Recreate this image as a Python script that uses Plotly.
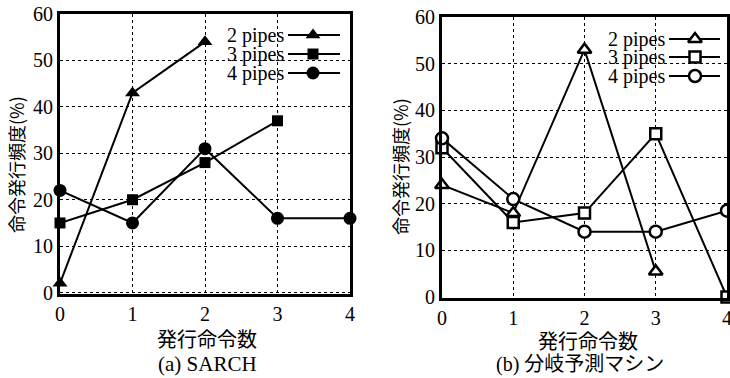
import plotly.graph_objects as go

# ---------------- data ----------------
x_vals = [0, 1, 2, 3, 4]
series_names = ["2 pipes", "3 pipes", "4 pipes"]

# (a) SARCH
sarch_2 = [2, 43, 54]
sarch_3 = [15, 20, 28, 37]
sarch_4 = [22, 15, 31, 16, 16]

# (b) branch-prediction machine
bp_2 = [24, 18, 53, 5.5]
bp_3 = [32, 16, 18, 35, 0]
bp_4 = [34, 21, 14, 14, 18.5]

x_ticks = [0, 1, 2, 3, 4]
y_ticks = [0, 10, 20, 30, 40, 50, 60]

y_title = "命令発行頻度(%)"
x_title = "発行命令数"
caption_a = "(a) SARCH"
caption_b = "(b) 分岐予測マシン"

# ---------------- styles ----------------
W, H = 730, 378
SERIF = "Liberation Serif, Times New Roman, serif"
CJK = "Noto Sans CJK JP, sans-serif"

syms = ["triangle-up", "square", "circle"]
filled_sizes = [13, 11, 13]
open_sizes = [12, 11, 12]

fig = go.Figure()

def marker_style(sym, size, open_marker):
    return dict(symbol=sym, size=size, color="white" if open_marker else "black",
                line=dict(color="black", width=2.5 if open_marker else 0))

def add_series(xs, ys, sym, size, xa, ya, open_marker):
    fig.add_trace(go.Scatter(
        x=xs[:len(ys)], y=ys, mode="lines+markers",
        line=dict(color="black", width=2),
        marker=marker_style(sym, size, open_marker),
        xaxis=xa, yaxis=ya, showlegend=False, cliponaxis=False, hoverinfo="skip"))

for ys, s, sz in zip([sarch_2, sarch_3, sarch_4], syms, filled_sizes):
    add_series(x_vals, ys, s, sz, "x", "y", False)
for ys, s, sz in zip([bp_2, bp_3, bp_4], syms, open_sizes):
    add_series(x_vals, ys, s, sz, "x2", "y2", True)

# ---------------- legend keys (pixel helper axis) ----------------
legend_rows_a = [35, 54, 73]
legend_rows_b = [39, 57, 76]
for rows, x0, x1, xm, sizes, op in [
        (legend_rows_a, 288, 340, 313, filled_sizes, False),
        (legend_rows_b, 669, 720, 695, open_sizes, True)]:
    for r, s, sz in zip(rows, syms, sizes):
        fig.add_trace(go.Scatter(x=[x0, x1], y=[r, r], mode="lines",
                                 line=dict(color="black", width=2), hoverinfo="skip",
                                 xaxis="x3", yaxis="y3", showlegend=False))
        fig.add_trace(go.Scatter(x=[xm], y=[r], mode="markers", hoverinfo="skip",
                                 marker=marker_style(s, sz, op),
                                 xaxis="x3", yaxis="y3", showlegend=False))
    for r, name in zip(rows, series_names):
        fig.add_annotation(x=x0 - 2, y=r, xref="x3", yref="y3", text=name,
                           showarrow=False, xanchor="right", yanchor="middle",
                           font=dict(family=SERIF, size=20, color="black"))

axis_common = dict(
    showgrid=True, gridcolor="black", gridwidth=1, griddash="dot",
    zeroline=False, showline=True, linecolor="black", linewidth=3, mirror=True,
    ticks="", automargin=False, ticklabeloverflow="allow",
    tickfont=dict(family=SERIF, size=20, color="black"),
)

fig.update_layout(
    width=W, height=H, margin=dict(l=0, r=0, t=0, b=0, autoexpand=False),
    paper_bgcolor="white", plot_bgcolor="rgba(0,0,0,0)", showlegend=False,
    xaxis=dict(domain=[60 / W, 350 / W], range=[0, 4], tickvals=x_ticks,
               anchor="y", **axis_common),
    yaxis=dict(domain=[1 - 294 / H, 1 - 14 / H], range=[-0.3, 60], tickvals=y_ticks,
               anchor="x", **axis_common),
    xaxis2=dict(domain=[442 / W, 727 / W], range=[0, 4], tickvals=x_ticks,
                anchor="y2", **axis_common),
    yaxis2=dict(domain=[1 - 298 / H, 1 - 17 / H], range=[-0.2, 60], tickvals=y_ticks,
                anchor="x2", **axis_common),
    xaxis3=dict(domain=[0, 1], range=[0, W], visible=False, fixedrange=True,
                anchor="y3", automargin=False),
    yaxis3=dict(domain=[0, 1], range=[H, 0], visible=False, fixedrange=True,
                anchor="x3", automargin=False),
)

# axis titles & captions (pixel positions via helper axis)
for xc, yc in [(16, 165), (400, 167)]:
    fig.add_annotation(x=xc, y=yc, xref="x3", yref="y3", text=y_title, showarrow=False,
                       textangle=-90, font=dict(family=CJK, size=18, color="black"))
for xc, yc in [(207, 338), (588, 340)]:
    fig.add_annotation(x=xc, y=yc, xref="x3", yref="y3", text=x_title, showarrow=False,
                       font=dict(family=CJK, size=20, color="black"))
fig.add_annotation(x=207, y=364, xref="x3", yref="y3", text=caption_a, showarrow=False,
                   font=dict(family=SERIF, size=21, color="black"))
fig.add_annotation(x=580, y=364, xref="x3", yref="y3", text=caption_b, showarrow=False,
                   font=dict(family=SERIF + ", Noto Sans CJK JP", size=20, color="black"))

fig.write_html(
    "out.html",
    config={"displayModeBar": False, "staticPlot": True},
    post_script="document.body.style.margin='0';document.body.style.overflow='hidden';",
)
